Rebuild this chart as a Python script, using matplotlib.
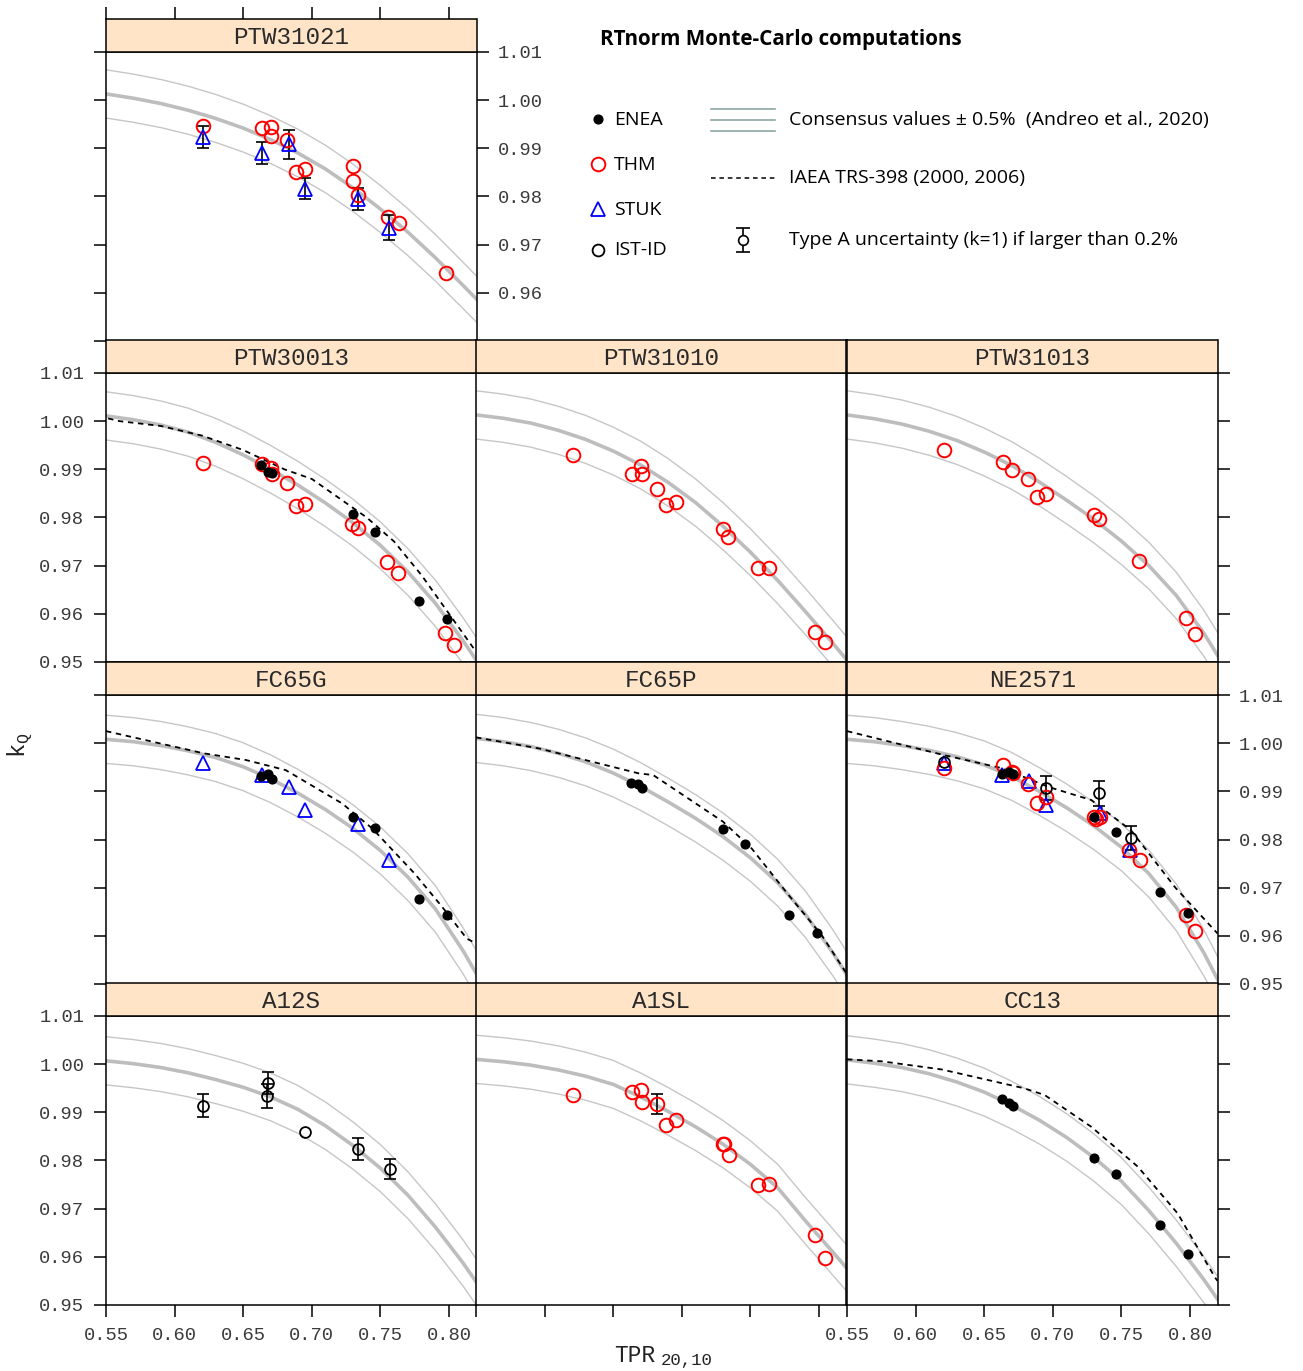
import matplotlib.pyplot as plt

plt.rcParams['font.family'] = ['Liberation Mono']
plt.rcParams['mathtext.fontset'] = 'custom'
plt.rcParams['mathtext.tt'] = 'Liberation Mono'

# ---------------------------------------------------------------------------
# data
# ---------------------------------------------------------------------------
# consensus kQ curves (Andreo et al., 2020), sampled along TPR20,10
tpr_grid = [0.55, 0.57, 0.59, 0.61, 0.63, 0.65, 0.67, 0.69, 0.71, 0.73, 0.75, 0.77, 0.79, 0.81, 0.82]
cons_ptw31021 = [1.0013, 1.0004, 0.9993, 0.9979, 0.9962, 0.9942, 0.9918, 0.9890, 0.9857, 0.9818, 0.9774, 0.9726, 0.9673, 0.9616, 0.9587]
cons_ptw30013 = [1.0011, 1.0003, 0.9992, 0.9977, 0.9956, 0.9930, 0.9900, 0.9867, 0.9830, 0.9789, 0.9742, 0.9687, 0.9622, 0.9545, 0.9503]
cons_ptw31010 = [1.0013, 1.0006, 0.9996, 0.9981, 0.9962, 0.9938, 0.9909, 0.9873, 0.9831, 0.9782, 0.9728, 0.9669, 0.9605, 0.9539, 0.9505]
cons_ptw31013 = [1.0013, 1.0005, 0.9994, 0.9979, 0.9960, 0.9936, 0.9908, 0.9874, 0.9836, 0.9796, 0.9751, 0.9700, 0.9638, 0.9560, 0.9514]
cons_fc65g = [1.0008, 1.0003, 0.9995, 0.9984, 0.9970, 0.9951, 0.9926, 0.9896, 0.9862, 0.9823, 0.9777, 0.9722, 0.9656, 0.9570, 0.9521]
cons_fc65p = [1.0010, 1.0003, 0.9993, 0.9979, 0.9961, 0.9938, 0.9910, 0.9878, 0.9844, 0.9806, 0.9762, 0.9710, 0.9645, 0.9565, 0.9520]
cons_ne2571 = [1.0008, 1.0003, 0.9995, 0.9985, 0.9972, 0.9955, 0.9931, 0.9900, 0.9866, 0.9828, 0.9784, 0.9729, 0.9659, 0.9565, 0.9510]
cons_a12s = [1.0007, 1.0001, 0.9993, 0.9982, 0.9968, 0.9952, 0.9932, 0.9906, 0.9872, 0.9831, 0.9784, 0.9728, 0.9662, 0.9588, 0.9547]
cons_a1sl = [1.0010, 1.0005, 0.9998, 0.9988, 0.9975, 0.9958, 0.9932, 0.9902, 0.9870, 0.9834, 0.9792, 0.9743, 0.9675, 0.9610, 0.9577]
cons_cc13 = [1.0009, 1.0002, 0.9993, 0.9980, 0.9963, 0.9942, 0.9915, 0.9884, 0.9848, 0.9806, 0.9757, 0.9696, 0.9628, 0.9553, 0.9512]

# IAEA TRS-398 curves (dashed)
trs_tpr_ptw30013 = [0.53, 0.56, 0.59, 0.62, 0.65, 0.68, 0.70, 0.72, 0.74, 0.76, 0.78, 0.80, 0.82, 0.84]
trs_kq_ptw30013 = [1.002, 1.000, 0.999, 0.997, 0.994, 0.990, 0.988, 0.984, 0.980, 0.975, 0.968, 0.960, 0.952, 0.939]
trs_tpr_fc65g = [0.55, 0.621, 0.652, 0.681, 0.722, 0.744, 0.775, 0.795, 0.813, 0.82]
trs_kq_fc65g = [1.0025, 0.9979, 0.9965, 0.9944, 0.9875, 0.9823, 0.9729, 0.9660, 0.9594, 0.9584]
trs_tpr_fc65p = [0.55, 0.596, 0.669, 0.679, 0.730, 0.751, 0.778, 0.802, 0.82]
trs_kq_fc65p = [1.0012, 0.9989, 0.9937, 0.9934, 0.9837, 0.9781, 0.9684, 0.9601, 0.9522]
trs_tpr_ne2571 = [0.55, 0.621, 0.663, 0.697, 0.728, 0.757, 0.789, 0.818, 0.82]
trs_kq_ne2571 = [1.0025, 0.9975, 0.9948, 0.9909, 0.9882, 0.9819, 0.9701, 0.9611, 0.9605]
trs_tpr_cc13 = [0.55, 0.575, 0.619, 0.679, 0.694, 0.728, 0.762, 0.791, 0.818, 0.82]
trs_kq_cc13 = [1.0010, 1.0006, 0.9989, 0.9950, 0.9936, 0.9870, 0.9787, 0.9690, 0.9558, 0.9550]

# ENEA (filled black dots)
enea_tpr = [0.6628, 0.6680, 0.6711, 0.7300, 0.7460, 0.7780, 0.7984]
enea_ptw30013 = [0.9908, 0.9895, 0.9893, 0.9807, 0.9770, 0.9627, 0.9590]
enea_fc65g = [0.9932, 0.9936, 0.9925, 0.9847, 0.9823, 0.9677, 0.9644]
enea_fc65p = [0.9918, 0.9916, 0.9906, 0.9821, 0.9790, 0.9643, 0.9605]
enea_ne2571 = [0.9937, 0.9941, 0.9937, 0.9847, 0.9816, 0.9691, 0.9647]
enea_cc13 = [0.9927, 0.9920, 0.9914, 0.9805, 0.9773, 0.9667, 0.9605]

# THM (open red circles)
thm_tpr_ptw31021 = [0.6208, 0.6638, 0.6699, 0.6706, 0.6822, 0.6888, 0.6953, 0.7300, 0.7300, 0.7336, 0.7555, 0.7632, 0.7975]
thm_ptw31021 = [0.9946, 0.9943, 0.9945, 0.9925, 0.9917, 0.9851, 0.9857, 0.9863, 0.9832, 0.9803, 0.9758, 0.9745, 0.9641]
thm_tpr_ptw30013 = [0.6208, 0.6638, 0.6699, 0.6711, 0.6822, 0.6888, 0.6953, 0.7293, 0.7336, 0.7550, 0.7628, 0.7972, 0.8035]
thm_ptw30013 = [0.9914, 0.9911, 0.9902, 0.9891, 0.9871, 0.9823, 0.9829, 0.9786, 0.9779, 0.9708, 0.9684, 0.9560, 0.9535]
thm_tpr_ptw31010 = [0.6208, 0.6640, 0.6701, 0.6711, 0.6820, 0.6888, 0.6956, 0.7300, 0.7336, 0.7555, 0.7632, 0.7972, 0.8040]
thm_ptw31010 = [0.9930, 0.9890, 0.9907, 0.9891, 0.9859, 0.9826, 0.9832, 0.9776, 0.9760, 0.9696, 0.9695, 0.9562, 0.9541]
thm_tpr_ptw31013 = [0.6206, 0.6638, 0.6706, 0.6816, 0.6885, 0.6948, 0.7300, 0.7334, 0.7628, 0.7967, 0.8033]
thm_ptw31013 = [0.9940, 0.9916, 0.9898, 0.9880, 0.9842, 0.9848, 0.9805, 0.9796, 0.9709, 0.9591, 0.9559]
thm_tpr_ne2571 = [0.6206, 0.6638, 0.6699, 0.6711, 0.6820, 0.6885, 0.6953, 0.7300, 0.7317, 0.7341, 0.7558, 0.7636, 0.7967, 0.8038]
thm_ne2571 = [0.9948, 0.9954, 0.9941, 0.9939, 0.9916, 0.9875, 0.9889, 0.9847, 0.9843, 0.9847, 0.9779, 0.9757, 0.9643, 0.9611]
thm_tpr_a1sl = [0.6208, 0.6640, 0.6706, 0.6711, 0.6822, 0.6888, 0.6956, 0.7300, 0.7307, 0.7341, 0.7555, 0.7632, 0.7972, 0.8040]
thm_a1sl = [0.9936, 0.9943, 0.9946, 0.9921, 0.9918, 0.9873, 0.9885, 0.9835, 0.9834, 0.9812, 0.9750, 0.9752, 0.9646, 0.9598]
thm_err_a1sl = [0, 0, 0, 0, 0.0021, 0, 0, 0, 0, 0, 0, 0, 0, 0]

# STUK (open blue triangles)
stuk_tpr_ptw31021 = [0.6208, 0.6638, 0.6834, 0.6953, 0.7336, 0.7562]
stuk_ptw31021 = [0.9923, 0.9891, 0.9908, 0.9816, 0.9795, 0.9735]
stuk_err_ptw31021 = [0.0023, 0.0023, 0.0031, 0.0022, 0.0022, 0.0026]
stuk_tpr_fc65g = [0.6208, 0.6634, 0.6834, 0.6953, 0.7336, 0.7560]
stuk_fc65g = [0.9958, 0.9934, 0.9908, 0.9861, 0.9833, 0.9758]
stuk_tpr_ne2571 = [0.6206, 0.6633, 0.6827, 0.6953, 0.7341, 0.7565]
stuk_ne2571 = [0.9958, 0.9934, 0.9922, 0.9871, 0.9854, 0.9778]

# IST-ID (open black circles)
ist_tpr_ne2571 = [0.6206, 0.6948, 0.7334, 0.7571]
ist_ne2571 = [0.9961, 0.9907, 0.9896, 0.9803]
ist_err_ne2571 = [0, 0.0025, 0.0026, 0.0024]
ist_tpr_a12s = [0.6208, 0.6681, 0.6670, 0.6948, 0.7336, 0.7572]
ist_a12s = [0.9914, 0.9961, 0.9934, 0.9859, 0.9823, 0.9783]
ist_err_a12s = [0.0024, 0.0023, 0.0024, 0, 0.0023, 0.0021]

x_ticks = [0.55, 0.60, 0.65, 0.70, 0.75, 0.80]
y_ticks = [0.95, 0.96, 0.97, 0.98, 0.99, 1.00, 1.01]

# ---------------------------------------------------------------------------
# layout (lattice style, pixel based)
# ---------------------------------------------------------------------------
W, H = 1303, 1371
fig = plt.figure(figsize=(W / 100, H / 100), dpi=100)

col_left = [106, 476, 847]
row_top = [52, 373, 695, 1016]
pw, ph, sh = 370.5, 289, 33

TICK_COLOR = '#3a3a3a'
CONS_COL = '#bdbdbd'
BAND_COL = '#c6c6c6'
LEG_FONT = 'Open Sans'


def rect(left, top, w, h):
    return [left / W, 1 - (top + h) / H, w / W, h / H]


def draw_consensus(ax, kq):
    ax.plot(tpr_grid, kq, color=CONS_COL, lw=2.6, zorder=1)
    # consensus +/- 0.5 %
    ax.plot(tpr_grid, [k * 1.005 for k in kq], color=BAND_COL, lw=1.0, zorder=1)
    ax.plot(tpr_grid, [k * 0.995 for k in kq], color=BAND_COL, lw=1.0, zorder=1)


def dashed(ax, x, y):
    ax.plot(x, y, color='black', lw=1.3, ls=(0, (3, 2.6)), zorder=2)


def errbars(ax, x, y, err):
    xs = [a for a, e in zip(x, err) if e > 0]
    ys = [b for b, e in zip(y, err) if e > 0]
    es = [e for e in err if e > 0]
    ax.errorbar(xs, ys, yerr=es, fmt='none', ecolor='black', elinewidth=1.2,
                capsize=4.5, capthick=1.2, zorder=3)


def enea(ax, y):
    ax.plot(enea_tpr, y, 'o', color='black', ms=6.3, zorder=5, ls='none')


def thm(ax, x, y, err=None):
    if err is not None:
        errbars(ax, x, y, err)
    ax.plot(x, y, 'o', mfc='none', mec='#ff0000', mew=1.4, ms=9.8, zorder=4, ls='none')


def stuk(ax, x, y, err=None):
    if err is not None:
        errbars(ax, x, y, err)
    ax.plot(x, y, '^', mfc='none', mec='#0000ff', mew=1.3, ms=10.5, zorder=4, ls='none')


def ist(ax, x, y, err=None):
    if err is not None:
        errbars(ax, x, y, err)
    ax.plot(x, y, 'o', mfc='none', mec='black', mew=1.3, ms=7.8, zorder=6, ls='none')


def make_panel(name, r, c):
    ax = fig.add_axes(rect(col_left[c], row_top[r], pw, ph))
    ax.set_xlim(0.55, 0.82)
    ax.set_ylim(0.95, 1.01)
    ax.set_xticks(x_ticks)
    ax.set_yticks(y_ticks)
    ax.set_xticklabels(['%.2f' % v for v in x_ticks])
    ax.set_yticklabels(['%.2f' % v for v in y_ticks])
    ax.tick_params(direction='out', length=8.6, width=1.1, color='black',
                   labelsize=13.5, labelcolor=TICK_COLOR, pad=7,
                   left=False, right=False, top=False, bottom=False,
                   labelleft=False, labelright=False, labeltop=False, labelbottom=False)
    for sp in ax.spines.values():
        sp.set_linewidth(1.1)
    st = fig.add_axes(rect(col_left[c], row_top[r] - sh, pw, sh))
    st.set_facecolor('#ffe4c8')
    st.set_xlim(0.55, 0.82)
    st.set_yticks([])
    st.set_xticks([])
    for sp in st.spines.values():
        sp.set_linewidth(1.1)
    st.text(0.5, 0.45, name, transform=st.transAxes, ha='center', va='center',
            fontsize=17.5, color='#2a2a2a')
    return ax, st


# row 0 --------------------------------------------------------------------
ax, st = make_panel('PTW31021', 0, 0)
ax.set_yticklabels([''] + ['%.2f' % v for v in y_ticks[1:]])
ax.tick_params(left=True, right=True, labelright=True)
st.set_xticks(x_ticks)
st.tick_params(top=True, bottom=False, labeltop=False, labelbottom=False,
               direction='out', length=8.6, width=1.1)
draw_consensus(ax, cons_ptw31021)
thm(ax, thm_tpr_ptw31021, thm_ptw31021)
stuk(ax, stuk_tpr_ptw31021, stuk_ptw31021, stuk_err_ptw31021)

# row 1 --------------------------------------------------------------------
ax, st = make_panel('PTW30013', 1, 0)
ax.tick_params(left=True, labelleft=True)
draw_consensus(ax, cons_ptw30013)
dashed(ax, trs_tpr_ptw30013, trs_kq_ptw30013)
thm(ax, thm_tpr_ptw30013, thm_ptw30013)
enea(ax, enea_ptw30013)

ax, st = make_panel('PTW31010', 1, 1)
draw_consensus(ax, cons_ptw31010)
thm(ax, thm_tpr_ptw31010, thm_ptw31010)

ax, st = make_panel('PTW31013', 1, 2)
ax.tick_params(right=True)
draw_consensus(ax, cons_ptw31013)
thm(ax, thm_tpr_ptw31013, thm_ptw31013)

# row 2 --------------------------------------------------------------------
ax, st = make_panel('FC65G', 2, 0)
ax.tick_params(left=True)
draw_consensus(ax, cons_fc65g)
dashed(ax, trs_tpr_fc65g, trs_kq_fc65g)
stuk(ax, stuk_tpr_fc65g, stuk_fc65g)
enea(ax, enea_fc65g)

ax, st = make_panel('FC65P', 2, 1)
draw_consensus(ax, cons_fc65p)
dashed(ax, trs_tpr_fc65p, trs_kq_fc65p)
enea(ax, enea_fc65p)

ax, st = make_panel('NE2571', 2, 2)
ax.tick_params(right=True, labelright=True)
draw_consensus(ax, cons_ne2571)
dashed(ax, trs_tpr_ne2571, trs_kq_ne2571)
enea(ax, enea_ne2571)
stuk(ax, stuk_tpr_ne2571, stuk_ne2571)
thm(ax, thm_tpr_ne2571, thm_ne2571)
ist(ax, ist_tpr_ne2571, ist_ne2571, ist_err_ne2571)

# row 3 --------------------------------------------------------------------
ax, st = make_panel('A12S', 3, 0)
ax.tick_params(left=True, labelleft=True, bottom=True, labelbottom=True)
draw_consensus(ax, cons_a12s)
ist(ax, ist_tpr_a12s, ist_a12s, ist_err_a12s)

ax, st = make_panel('A1SL', 3, 1)
ax.tick_params(bottom=True)
draw_consensus(ax, cons_a1sl)
thm(ax, thm_tpr_a1sl, thm_a1sl, thm_err_a1sl)

ax, st = make_panel('CC13', 3, 2)
ax.tick_params(right=True, bottom=True, labelbottom=True)
draw_consensus(ax, cons_cc13)
dashed(ax, trs_tpr_cc13, trs_kq_cc13)
enea(ax, enea_cc13)

# axis titles ---------------------------------------------------------------
fig.text(20 / W, 1 - 745 / H, r'$\mathtt{k}_{\mathtt{Q}}$', rotation=90,
         ha='center', va='center', fontsize=17, color='#222222')
fig.text(614 / W, 1 - 1355 / H, 'TPR', fontsize=16.5,
         ha='left', va='center', color='#222222')
fig.text(661 / W, 1 - 1360 / H, '20,10', fontsize=12.5,
         ha='left', va='center', color='#222222')

# legend ---------------------------------------------------------------------
lg = fig.add_axes(rect(560, 0, 743, 300))
lg.set_xlim(560, 1303)
lg.set_ylim(300, 0)
lg.axis('off')
lg.text(600, 40, 'RTnorm Monte-Carlo computations', fontfamily=LEG_FONT,
        fontweight='bold', fontsize=14.9, va='center', ha='left')
lg.plot([598], [119], 'o', color='black', ms=6.3)
lg.plot([598], [164], 'o', mfc='none', mec='#ff0000', mew=1.4, ms=9.8)
lg.plot([598], [209], '^', mfc='none', mec='#0000ff', mew=1.3, ms=10.5)
lg.plot([598], [250], 'o', mfc='none', mec='black', mew=1.3, ms=8.5)
for txt, yy in [('ENEA', 120), ('THM', 165), ('STUK', 210), ('IST-ID', 250)]:
    lg.text(614, yy, txt, fontfamily=LEG_FONT, fontsize=14, va='center', ha='left')
for yy in [109, 120, 131]:
    lg.plot([711, 775], [yy, yy], color='#8fa6a6', lw=1.2)
lg.plot([711, 775], [178, 178], color='black', lw=1.1, ls=(0, (3, 2.5)))
lg.errorbar([743], [240], yerr=[[12], [12]], fmt='o', mfc='white', mec='black', ecolor='black',
            ms=7, mew=1.2, elinewidth=1.2, capsize=5, capthick=1.2)
lg.text(789, 120, 'Consensus values \u00b1 0.5%  (Andreo et al., 2020)', fontfamily=LEG_FONT,
        fontsize=14, va='center', ha='left')
lg.text(789, 178, 'IAEA TRS-398 (2000, 2006)', fontfamily=LEG_FONT,
        fontsize=14, va='center', ha='left')
lg.text(789, 240, 'Type A uncertainty (k=1) if larger than 0.2%', fontfamily=LEG_FONT,
        fontsize=14, va='center', ha='left')

fig.savefig('out.png', dpi=100)
